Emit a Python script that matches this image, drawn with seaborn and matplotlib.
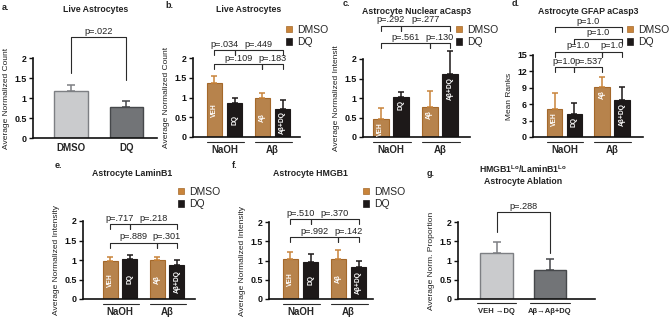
import matplotlib
matplotlib.use("Agg")
import matplotlib.pyplot as plt
from matplotlib.patches import Patch
import seaborn as sns
import pandas as pd

sns.set_style("ticks")
plt.rcParams['font.family'] = ['Liberation Sans', 'DejaVu Sans']
plt.rcParams['mathtext.fontset'] = 'custom'
plt.rcParams['mathtext.rm'] = 'Liberation Sans'
plt.rcParams['mathtext.bf'] = 'Liberation Sans:bold'

ORANGE = '#c9843a'
ORANGE_EDGE = '#a4682a'
BLACK = '#1d1919'
LIGHT = '#c9cbce'
LIGHT_EDGE = '#7d7f83'
DARK = '#717478'
DARK_EDGE = '#46484b'
LINE = '#2a2a2a'

W, H = 669, 320

# ---- data ----
groups = ['NaOH', 'NaOH', 'Aβ', 'Aβ']
treatments = ['DMSO', 'DQ', 'DMSO', 'DQ']
bar_names = ['VEH', 'DQ', 'Aβ', 'Aβ+DQ']

a_cond = ['DMSO', 'DQ']
a_mean = [1.18, 0.78]
a_err = [0.15, 0.14]

b_mean = [1.37, 0.85, 0.99, 0.72]
b_err = [0.18, 0.13, 0.13, 0.21]
b_p = ['p=.034', 'p=.449', 'p=.109', 'p=.183']

c_mean = [0.47, 1.03, 0.78, 1.62]
c_err = [0.28, 0.12, 0.39, 0.58]
c_p = ['p=.292', 'p=.277', 'p=.561', 'p=.130']

d_mean = [5.2, 4.2, 9.2, 6.8]
d_err = [2.8, 2.1, 1.7, 2.4]
d_p = ['p=1.0', 'p=1.0', 'p=1.0', 'p=1.0', 'p=1.0', 'p=.537']

e_mean = [0.98, 1.03, 0.99, 0.88]
e_err = [0.10, 0.10, 0.08, 0.12]
e_p = ['p=.717', 'p=.218', 'p=.889', 'p=.301']

f_mean = [1.05, 0.97, 1.05, 0.84]
f_err = [0.17, 0.20, 0.23, 0.14]
f_p = ['p=.510', 'p=.370', 'p=.992', 'p=.142']

g_cond = ['VEH →DQ', 'Aβ→Aβ+DQ']
g_mean = [1.20, 0.75]
g_err = [0.28, 0.30]
g_p = 'p=.288'

yt_2 = [0, 0.5, 1, 1.5, 2]
yl_2 = ['0', '0.5', '1', '1.5', '2']
yt_15 = [0, 3, 6, 9, 12, 15]

fig = plt.figure(figsize=(W / 100, H / 100), dpi=100)
fig.patch.set_facecolor('white')


def px_axes(x0, x1, ytop, ybot):
    return fig.add_axes([x0 / W, 1 - ybot / H, (x1 - x0) / W, (ybot - ytop) / H])


def style(ax, yticks, ylabels, ylabel, xlim, labelpad=3):
    ax.set_ylim(yticks[0], yticks[-1])
    ax.set_yticks(yticks)
    ax.set_yticklabels(ylabels, fontweight='bold', fontsize=6.4)
    ax.set_xlim(xlim)
    sns.despine(ax=ax)
    for s in ['left', 'bottom']:
        ax.spines[s].set_linewidth(1.2)
        ax.spines[s].set_color('#111111')
    ax.tick_params(axis='y', length=3, width=1, pad=1.5, colors='#111111')
    ax.tick_params(axis='x', length=0)
    ax.set_ylabel(ylabel, fontsize=6, labelpad=labelpad, color='#222222')
    ax.set_xlabel('')


def bracket(ax, x1, x2, y, text, lo1, lo2):
    ax.plot([x1, x1, x2, x2], [lo1, y, y, lo2], color=LINE, lw=0.8, clip_on=False)
    ax.annotate(text, ((x1 + x2) / 2, y), xytext=(0, 1), textcoords='offset points',
                ha='center', va='bottom', fontsize=6.6, color='#222222', annotation_clip=False)


def sorted_bars(ax):
    ps = [p for p in ax.patches if p.get_width() > 0]
    return sorted(ps, key=lambda p: p.get_x())


def four_bar(box, xlim, mean, err, yticks, ylabels, ylabel, pairs, levels, pvals,
             label_mode, legend_xy, labelpad=3):
    ax = px_axes(*box)
    df = pd.DataFrame({'group': groups, 'treat': treatments, 'mean': mean})
    sns.barplot(data=df, x='group', y='mean', hue='treat', order=['NaOH', 'Aβ'],
                hue_order=['DMSO', 'DQ'], palette=[ORANGE, BLACK], width=0.84, gap=0.24,
                legend=False, ax=ax, linewidth=0.8, edgecolor=BLACK)
    style(ax, yticks, ylabels, ylabel, xlim, labelpad)
    ymax = yticks[-1]
    ps = sorted_bars(ax)
    xs = []
    for p, t, e, name in zip(ps, treatments, err, bar_names):
        col = ORANGE if t == 'DMSO' else BLACK
        p.set_edgecolor(ORANGE_EDGE if t == 'DMSO' else BLACK)
        x = p.get_x() + p.get_width() / 2
        h = p.get_height()
        xs.append(x)
        ax.errorbar(x, h, yerr=[[0], [e]], fmt='none', ecolor=col, elinewidth=1.1,
                    capsize=2.2, capthick=1.1, clip_on=False)
        if label_mode == 'center':
            ax.text(x, h / 2, name, rotation=90, ha='center', va='center', color='white',
                    fontsize=4.8, fontweight='bold')
        else:
            ax.text(x, h - 0.04 * ymax, name, rotation=90, ha='center', va='top',
                    color='white', fontsize=4.8, fontweight='bold')
    drop = 0.06 * ymax
    for (i, j), lev, txt in zip(pairs, levels, pvals):
        bracket(ax, xs[i], xs[j], lev, txt, lev - drop, lev - drop)
    # group labels with over-lines
    bw = ps[0].get_width()
    ax.set_xticks([0, 1])
    ax.set_xticklabels(['NaOH', 'Aβ'], fontweight='bold', fontsize=7)
    ax.tick_params(axis='x', pad=6)
    axh = box[3] - box[2]
    for g in range(2):
        ax.plot([xs[2 * g] - bw / 2, xs[2 * g + 1] + bw / 2 + 0.03], [-5 / axh, -5 / axh],
                transform=ax.get_xaxis_transform(), color=LINE, lw=0.8, clip_on=False)
    handles = [Patch(facecolor=ORANGE, edgecolor=ORANGE_EDGE, lw=0.5),
               Patch(facecolor=BLACK, edgecolor=BLACK, lw=0.5)]
    ax.legend(handles, ['DMSO', 'DQ'], loc='upper left', frameon=False, fontsize=7.5,
              handlelength=0.55, handleheight=0.55, handletextpad=0.5, labelspacing=0.2,
              borderpad=0, borderaxespad=0,
              bbox_to_anchor=(legend_xy[0] / W, 1 - legend_xy[1] / H),
              bbox_transform=fig.transFigure)
    return ax


def two_bar(box, xlim, cond, mean, err, colors, edges, ylabel, level, ptxt, legs, pad):
    ax = px_axes(*box)
    df = pd.DataFrame({'cond': cond, 'mean': mean})
    sns.barplot(data=df, x='cond', y='mean', hue='cond', palette=colors, width=0.6,
                legend=False, ax=ax, linewidth=1.0)
    style(ax, yt_2, yl_2, ylabel, xlim)
    ps = sorted_bars(ax)
    xs = []
    for p, e, ec in zip(ps, err, edges):
        p.set_edgecolor(ec)
        x = p.get_x() + p.get_width() / 2
        xs.append(x)
        ax.errorbar(x, p.get_height(), yerr=[[0], [e]], fmt='none', ecolor=ec,
                    elinewidth=1.1, capsize=3, capthick=1.1, clip_on=False)
    bracket(ax, xs[0], xs[1], level, ptxt, legs[0], legs[1])
    ax.tick_params(axis='x', pad=pad)
    return ax, xs, ps[0].get_width()


# ---- panel a ----
ax_a, _, _ = two_bar((33, 157, 58, 138), (-0.69, 1.56), a_cond, a_mean, a_err,
                     [LIGHT, DARK], [LIGHT_EDGE, DARK_EDGE], 'Average Normalized Count',
                     2.52, 'p=.022', (1.62, 1.45), 3.5)
for t in ax_a.get_xticklabels():
    t.set_fontweight('bold')
    t.set_fontsize(7)

# ---- panel b ----
four_bar((193, 300, 58, 137), (-0.656, 1.573), b_mean, b_err, yt_2, yl_2,
         'Average Normalized Count', [(0, 1), (1, 3), (0, 2), (2, 3)],
         [2.2, 2.2, 1.85, 1.85], b_p, 'center', (286, 25))

# ---- panel c ----
four_bar((363, 470, 59, 137), (-0.571, 1.612), c_mean, c_err, yt_2, yl_2,
         'Average Normalized Intensit', [(0, 1), (1, 3), (0, 2), (2, 3)],
         [2.85, 2.85, 2.4, 2.4], c_p, 'top', (456, 25))

# ---- panel d ----
four_bar((533, 643, 55, 137), (-0.663, 1.653), d_mean, d_err, yt_15,
         [str(v) for v in yt_15], 'Mean Ranks',
         [(0, 3), (1, 3), (0, 2), (2, 3), (0, 1), (1, 2)],
         [20.1, 18.0, 15.6, 15.6, 12.8, 12.8], d_p, 'top', (627, 25))

# ---- panel e ----
four_bar((83, 195, 221, 299), (-0.787, 1.596), e_mean, e_err, yt_2, yl_2,
         'Average Normalized Intensity', [(0, 1), (1, 3), (0, 2), (2, 3)],
         [1.92, 1.92, 1.44, 1.44], e_p, 'center', (178, 187))

# ---- panel f ----
four_bar((269, 373, 222, 299), (-0.656, 1.51), f_mean, f_err, yt_2, yl_2,
         'Average Normalized Intensity', [(0, 1), (1, 3), (0, 2), (2, 3)],
         [2.08, 2.08, 1.6, 1.6], f_p, 'center', (363, 187))

# ---- panel g ----
ax_g, gx, gw = two_bar((458, 595, 222, 299), (-0.72, 1.84), g_cond, g_mean, g_err,
                       [LIGHT, DARK], [LIGHT_EDGE, DARK_EDGE], 'Average Norm. Proportion',
                       2.26, g_p, (1.74, 1.2), 6.5)
for t in ax_g.get_xticklabels():
    t.set_fontweight('bold')
    t.set_fontsize(5.5)
for x in gx:
    ax_g.plot([x - gw * 0.62, x + gw * 0.62], [-4 / 77, -4 / 77],
              transform=ax_g.get_xaxis_transform(), color=LINE, lw=0.8, clip_on=False)

# ---- titles and panel letters ----
titles = [('Live Astrocytes', 96, 10), ('Live Astrocytes', 249, 10),
          ('Astrocyte Nuclear aCasp3', 417, 12), ('Astrocyte GFAP aCasp3', 588, 12),
          ('Astrocyte LaminB1', 132, 173), ('Astrocyte HMGB1', 310, 173),
          (r'HMGB1$^{\mathbf{Lo}}$/LaminB1$^{\mathbf{Lo}}$', 523, 169),
          ('Astrocyte Ablation', 523, 181)]
for txt, x, y in titles:
    fig.text(x / W, 1 - y / H, txt, ha='center', va='center', fontsize=6.3,
             fontweight='bold', color='#222222')

letters = [('a.', 2, 8), ('b.', 165, 6), ('c.', 343, 4), ('d.', 512, 4),
           ('e.', 55, 166), ('f.', 232, 166), ('g.', 427, 173)]
for txt, x, y in letters:
    fig.text(x / W, 1 - y / H, txt, ha='left', va='center', fontsize=6.5,
             fontweight='bold', color='#222222')

fig.savefig('out.png', dpi=100, facecolor='white')
